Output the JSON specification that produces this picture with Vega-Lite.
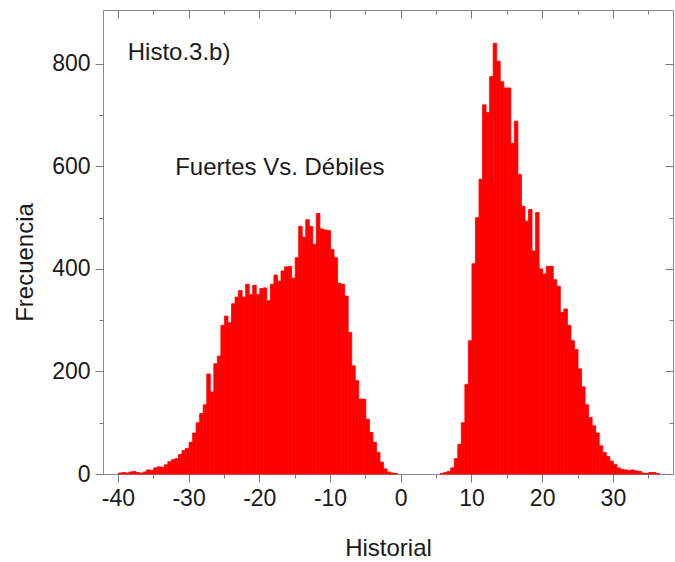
{
  "$schema": "https://vega.github.io/schema/vega-lite/v6.json",
  "width": 570,
  "height": 464,
  "autosize": {"type": "none"},
  "padding": {"left": 103, "top": 10, "right": 2, "bottom": 88},
  "background": "white",
  "config": {
    "view": {"stroke": "#8a8a8a", "strokeWidth": 1},
    "font": "Liberation Sans",
    "axis": {
      "grid": false,
      "domain": false,
      "tickColor": "#7a7a7a",
      "tickWidth": 1,
      "labelFont": "Liberation Sans",
      "labelFontSize": 23,
      "labelColor": "#1a1a1a",
      "titleFont": "Liberation Sans",
      "titleFontSize": 24,
      "titleFontWeight": "normal",
      "titleColor": "#1a1a1a"
    }
  },
  "datasets": {
    "bins": [
      {"lo": -40.0, "hi": -39.5, "n": 2},
      {"lo": -39.5, "hi": -39.0, "n": 3},
      {"lo": -39.0, "hi": -38.5, "n": 2},
      {"lo": -38.5, "hi": -38.0, "n": 4},
      {"lo": -38.0, "hi": -37.5, "n": 5},
      {"lo": -37.5, "hi": -37.0, "n": 3},
      {"lo": -37.0, "hi": -36.5, "n": 2},
      {"lo": -36.5, "hi": -36.0, "n": 4},
      {"lo": -36.0, "hi": -35.5, "n": 8},
      {"lo": -35.5, "hi": -35.0, "n": 7},
      {"lo": -35.0, "hi": -34.5, "n": 12},
      {"lo": -34.5, "hi": -34.0, "n": 14},
      {"lo": -34.0, "hi": -33.5, "n": 13},
      {"lo": -33.5, "hi": -33.0, "n": 18},
      {"lo": -33.0, "hi": -32.5, "n": 24},
      {"lo": -32.5, "hi": -32.0, "n": 28},
      {"lo": -32.0, "hi": -31.5, "n": 30},
      {"lo": -31.5, "hi": -31.0, "n": 38},
      {"lo": -31.0, "hi": -30.5, "n": 46},
      {"lo": -30.5, "hi": -30.0, "n": 50},
      {"lo": -30.0, "hi": -29.5, "n": 62},
      {"lo": -29.5, "hi": -29.0, "n": 80},
      {"lo": -29.0, "hi": -28.5, "n": 100},
      {"lo": -28.5, "hi": -28.0, "n": 118},
      {"lo": -28.0, "hi": -27.5, "n": 135},
      {"lo": -27.5, "hi": -27.0, "n": 195},
      {"lo": -27.0, "hi": -26.5, "n": 160},
      {"lo": -26.5, "hi": -26.0, "n": 215},
      {"lo": -26.0, "hi": -25.5, "n": 230},
      {"lo": -25.5, "hi": -25.0, "n": 290},
      {"lo": -25.0, "hi": -24.5, "n": 308},
      {"lo": -24.5, "hi": -24.0, "n": 295},
      {"lo": -24.0, "hi": -23.5, "n": 332},
      {"lo": -23.5, "hi": -23.0, "n": 345},
      {"lo": -23.0, "hi": -22.5, "n": 358},
      {"lo": -22.5, "hi": -22.0, "n": 345},
      {"lo": -22.0, "hi": -21.5, "n": 370},
      {"lo": -21.5, "hi": -21.0, "n": 350},
      {"lo": -21.0, "hi": -20.5, "n": 368},
      {"lo": -20.5, "hi": -20.0, "n": 350},
      {"lo": -20.0, "hi": -19.5, "n": 362},
      {"lo": -19.5, "hi": -19.0, "n": 363},
      {"lo": -19.0, "hi": -18.5, "n": 338},
      {"lo": -18.5, "hi": -18.0, "n": 370},
      {"lo": -18.0, "hi": -17.5, "n": 388},
      {"lo": -17.5, "hi": -17.0, "n": 376},
      {"lo": -17.0, "hi": -16.5, "n": 396},
      {"lo": -16.5, "hi": -16.0, "n": 404},
      {"lo": -16.0, "hi": -15.5, "n": 405},
      {"lo": -15.5, "hi": -15.0, "n": 382},
      {"lo": -15.0, "hi": -14.5, "n": 422},
      {"lo": -14.5, "hi": -14.0, "n": 483},
      {"lo": -14.0, "hi": -13.5, "n": 462},
      {"lo": -13.5, "hi": -13.0, "n": 496},
      {"lo": -13.0, "hi": -12.5, "n": 483},
      {"lo": -12.5, "hi": -12.0, "n": 448},
      {"lo": -12.0, "hi": -11.5, "n": 508},
      {"lo": -11.5, "hi": -11.0, "n": 478},
      {"lo": -11.0, "hi": -10.5, "n": 476},
      {"lo": -10.5, "hi": -10.0, "n": 475},
      {"lo": -10.0, "hi": -9.5, "n": 438},
      {"lo": -9.5, "hi": -9.0, "n": 422},
      {"lo": -9.0, "hi": -8.5, "n": 372},
      {"lo": -8.5, "hi": -8.0, "n": 370},
      {"lo": -8.0, "hi": -7.5, "n": 347},
      {"lo": -7.5, "hi": -7.0, "n": 276},
      {"lo": -7.0, "hi": -6.5, "n": 211},
      {"lo": -6.5, "hi": -6.0, "n": 182},
      {"lo": -6.0, "hi": -5.5, "n": 146},
      {"lo": -5.5, "hi": -5.0, "n": 146},
      {"lo": -5.0, "hi": -4.5, "n": 107},
      {"lo": -4.5, "hi": -4.0, "n": 81},
      {"lo": -4.0, "hi": -3.5, "n": 62},
      {"lo": -3.5, "hi": -3.0, "n": 42},
      {"lo": -3.0, "hi": -2.5, "n": 23},
      {"lo": -2.5, "hi": -2.0, "n": 10},
      {"lo": -2.0, "hi": -1.5, "n": 4},
      {"lo": -1.5, "hi": -1.0, "n": 2},
      {"lo": -1.0, "hi": -0.5, "n": 1},
      {"lo": 5.5, "hi": 6.0, "n": 1},
      {"lo": 6.0, "hi": 6.5, "n": 3},
      {"lo": 6.5, "hi": 7.0, "n": 5},
      {"lo": 7.0, "hi": 7.5, "n": 12},
      {"lo": 7.5, "hi": 8.0, "n": 30},
      {"lo": 8.0, "hi": 8.5, "n": 58},
      {"lo": 8.5, "hi": 9.0, "n": 100},
      {"lo": 9.0, "hi": 9.5, "n": 175},
      {"lo": 9.5, "hi": 10.0, "n": 260},
      {"lo": 10.0, "hi": 10.5, "n": 410},
      {"lo": 10.5, "hi": 11.0, "n": 500},
      {"lo": 11.0, "hi": 11.5, "n": 575},
      {"lo": 11.5, "hi": 12.0, "n": 720},
      {"lo": 12.0, "hi": 12.5, "n": 705},
      {"lo": 12.5, "hi": 13.0, "n": 775},
      {"lo": 13.0, "hi": 13.5, "n": 840},
      {"lo": 13.5, "hi": 14.0, "n": 805},
      {"lo": 14.0, "hi": 14.5, "n": 765},
      {"lo": 14.5, "hi": 15.0, "n": 753},
      {"lo": 15.0, "hi": 15.5, "n": 753},
      {"lo": 15.5, "hi": 16.0, "n": 645},
      {"lo": 16.0, "hi": 16.5, "n": 688},
      {"lo": 16.5, "hi": 17.0, "n": 584},
      {"lo": 17.0, "hi": 17.5, "n": 522},
      {"lo": 17.5, "hi": 18.0, "n": 493},
      {"lo": 18.0, "hi": 18.5, "n": 516},
      {"lo": 18.5, "hi": 19.0, "n": 435},
      {"lo": 19.0, "hi": 19.5, "n": 510},
      {"lo": 19.5, "hi": 20.0, "n": 400},
      {"lo": 20.0, "hi": 20.5, "n": 390},
      {"lo": 20.5, "hi": 21.0, "n": 405},
      {"lo": 21.0, "hi": 21.5, "n": 405},
      {"lo": 21.5, "hi": 22.0, "n": 379},
      {"lo": 22.0, "hi": 22.5, "n": 366},
      {"lo": 22.5, "hi": 23.0, "n": 315},
      {"lo": 23.0, "hi": 23.5, "n": 322},
      {"lo": 23.5, "hi": 24.0, "n": 290},
      {"lo": 24.0, "hi": 24.5, "n": 260},
      {"lo": 24.5, "hi": 25.0, "n": 243},
      {"lo": 25.0, "hi": 25.5, "n": 205},
      {"lo": 25.5, "hi": 26.0, "n": 170},
      {"lo": 26.0, "hi": 26.5, "n": 135},
      {"lo": 26.5, "hi": 27.0, "n": 110},
      {"lo": 27.0, "hi": 27.5, "n": 94},
      {"lo": 27.5, "hi": 28.0, "n": 80},
      {"lo": 28.0, "hi": 28.5, "n": 55},
      {"lo": 28.5, "hi": 29.0, "n": 42},
      {"lo": 29.0, "hi": 29.5, "n": 34},
      {"lo": 29.5, "hi": 30.0, "n": 25},
      {"lo": 30.0, "hi": 30.5, "n": 19},
      {"lo": 30.5, "hi": 31.0, "n": 12},
      {"lo": 31.0, "hi": 31.5, "n": 9},
      {"lo": 31.5, "hi": 32.0, "n": 8},
      {"lo": 32.0, "hi": 32.5, "n": 7},
      {"lo": 32.5, "hi": 33.0, "n": 8},
      {"lo": 33.0, "hi": 33.5, "n": 6},
      {"lo": 33.5, "hi": 34.0, "n": 5},
      {"lo": 34.0, "hi": 34.5, "n": 2},
      {"lo": 34.5, "hi": 35.0, "n": 1},
      {"lo": 35.0, "hi": 35.5, "n": 3},
      {"lo": 35.5, "hi": 36.0, "n": 3},
      {"lo": 36.0, "hi": 36.5, "n": 1}
    ],
    "notes": [
      {"x": -38.6, "y": 808, "label": "Histo.3.b)"},
      {"x": -31.9, "y": 584, "label": "Fuertes Vs. Débiles"}
    ]
  },
  "layer": [
    {
      "data": {"name": "bins"},
      "mark": {"type": "bar", "color": "#ff0000", "stroke": "#ff0000", "strokeWidth": 0.8, "binSpacing": 0},
      "encoding": {
        "x": {
          "field": "lo", "type": "quantitative", "bin": {"binned": true},
          "scale": {"domain": [-42.1, 38.5], "nice": false, "zero": false},
          "axis": {"orient": "bottom", "values": [-40, -30, -20, -10, 0, 10, 20, 30],
                   "labelExpr": "replace(datum.label, '\u2212', '-')",
                   "tickSize": 8, "labelPadding": 5, "title": "Historial", "titlePadding": 26}
        },
        "x2": {"field": "hi"},
        "y": {
          "field": "n", "type": "quantitative",
          "scale": {"domain": [0, 905], "nice": false},
          "axis": {"orient": "left", "values": [0, 200, 400, 600, 800],
                   "tickSize": 8, "labelPadding": 5, "title": "Frecuencia", "titlePadding": 14,
                   "titleY": 252}
        }
      }
    },
    {
      "data": {"name": "bins"},
      "mark": {"type": "point", "opacity": 0},
      "encoding": {
        "x": {"field": "lo", "type": "quantitative",
              "axis": {"orient": "bottom", "values": [-35, -25, -15, -5, 5, 15, 25, 35],
                       "tickSize": 4, "labels": false, "title": null}},
        "y": {"field": "n", "type": "quantitative",
              "axis": {"orient": "left", "values": [100, 300, 500, 700],
                       "tickSize": 4, "labels": false, "title": null}}
      }
    },
    {
      "data": {"name": "bins"},
      "mark": {"type": "point", "opacity": 0},
      "encoding": {
        "x": {"field": "lo", "type": "quantitative",
              "axis": {"orient": "top", "values": [-40, -30, -20, -10, 0, 10, 20, 30],
                       "tickSize": -8, "labels": false, "title": null}},
        "y": {"field": "n", "type": "quantitative",
              "axis": {"orient": "right", "values": [0, 200, 400, 600, 800],
                       "tickSize": -8, "labels": false, "title": null}}
      }
    },
    {
      "data": {"name": "bins"},
      "mark": {"type": "point", "opacity": 0},
      "encoding": {
        "x": {"field": "lo", "type": "quantitative",
              "axis": {"orient": "top", "values": [-35, -25, -15, -5, 5, 15, 25, 35],
                       "tickSize": -4, "labels": false, "title": null}},
        "y": {"field": "n", "type": "quantitative",
              "axis": {"orient": "right", "values": [100, 300, 500, 700],
                       "tickSize": -4, "labels": false, "title": null}}
      }
    },
    {
      "data": {"name": "notes"},
      "mark": {"type": "text", "align": "left", "baseline": "alphabetic",
               "font": "Liberation Sans", "fontSize": 24, "color": "#1a1a1a"},
      "encoding": {
        "x": {"field": "x", "type": "quantitative", "axis": null},
        "y": {"field": "y", "type": "quantitative", "axis": null},
        "text": {"field": "label"}
      }
    }
  ],
  "resolve": {"axis": {"x": "independent", "y": "independent"}}
}
